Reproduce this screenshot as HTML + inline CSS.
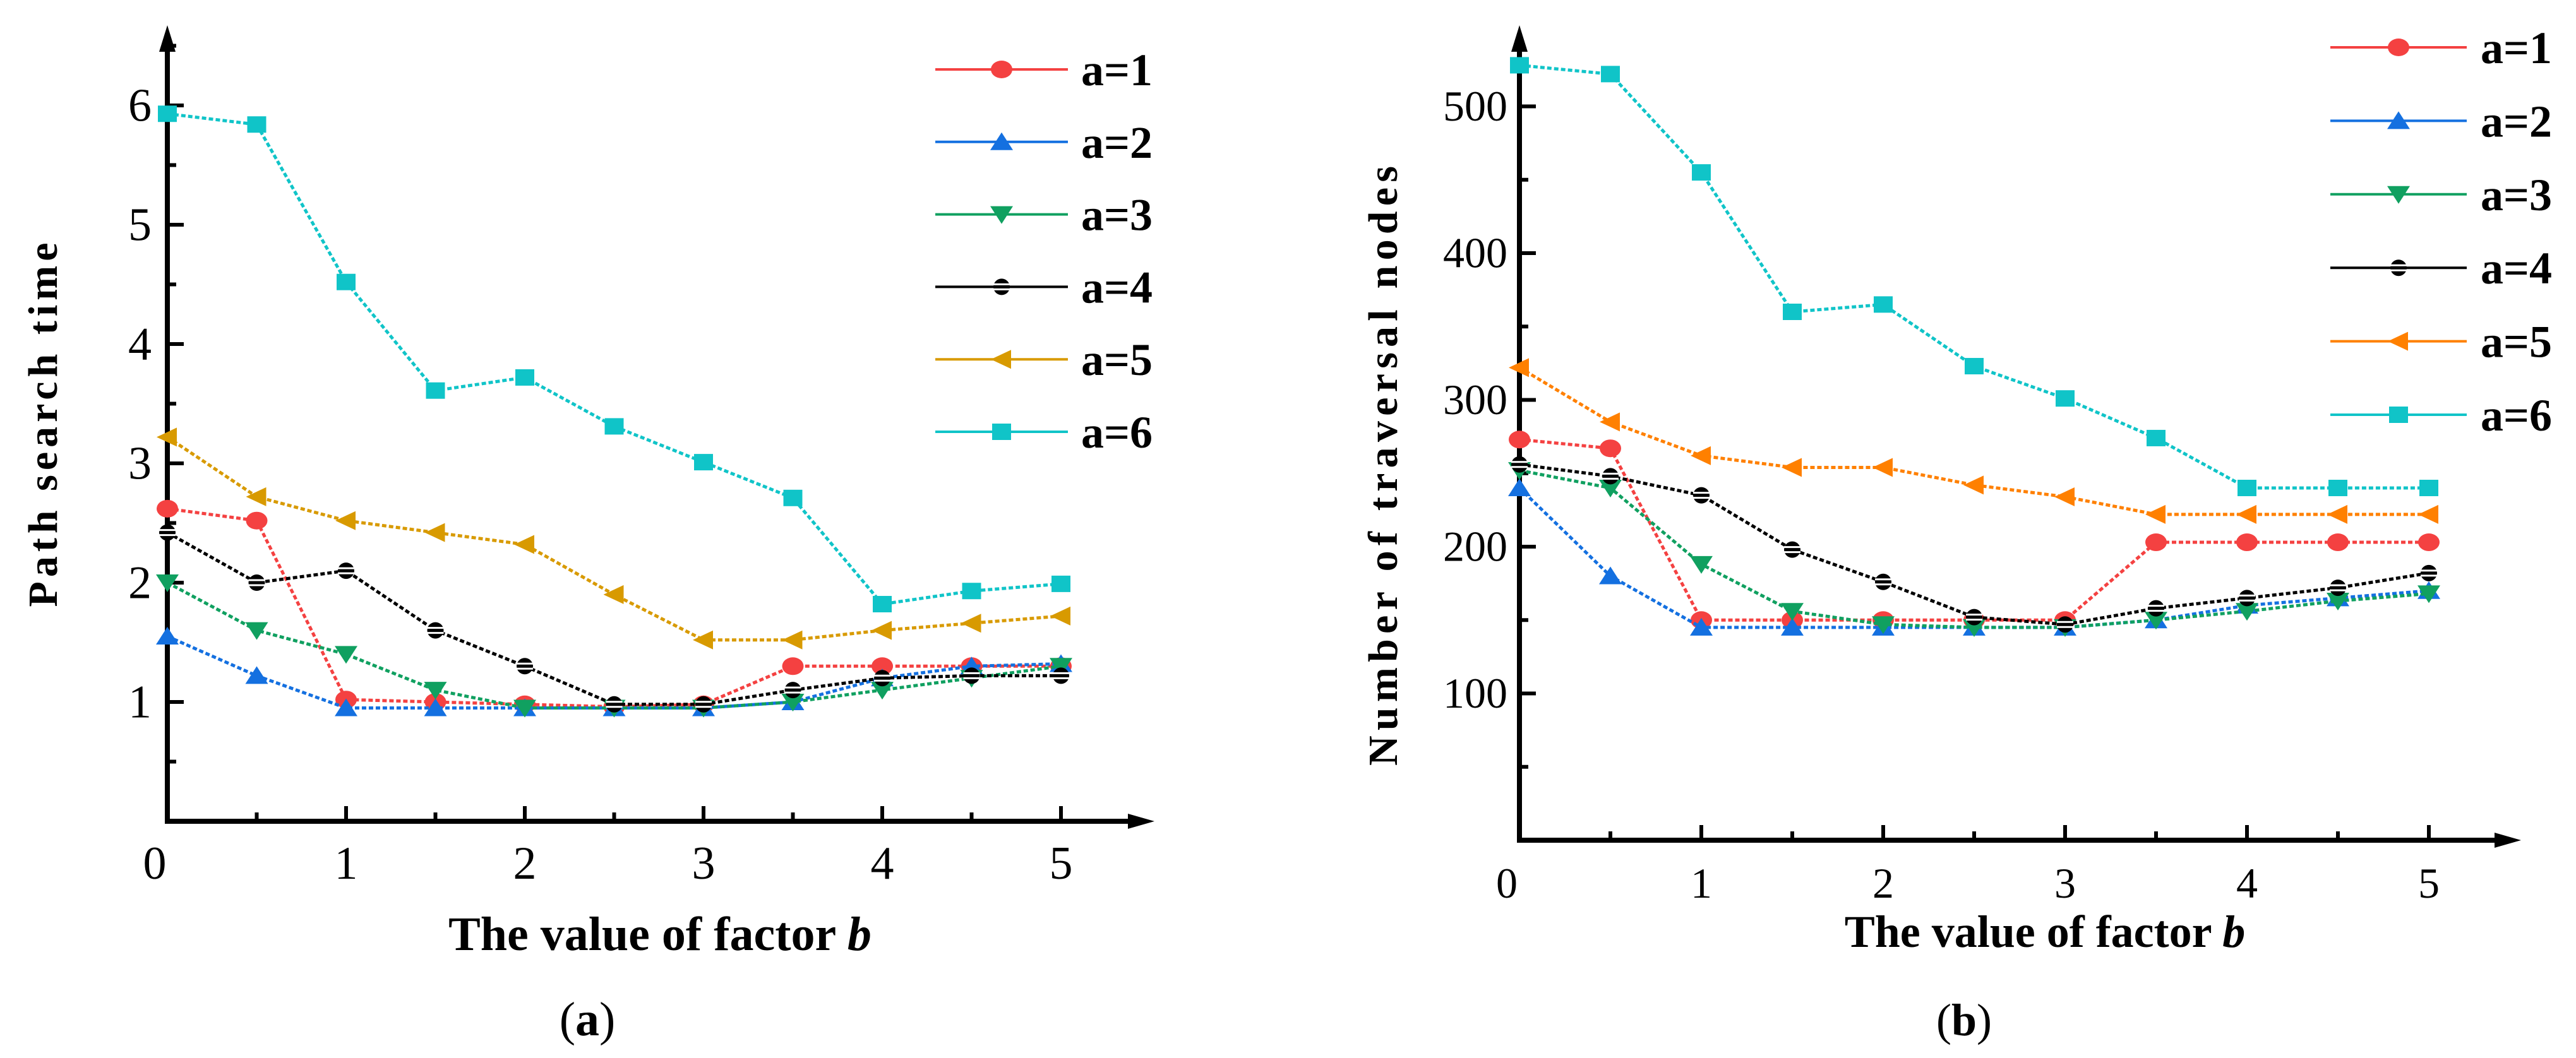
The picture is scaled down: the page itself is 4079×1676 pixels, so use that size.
<!DOCTYPE html>
<html><head><meta charset="utf-8">
<style>
html,body{margin:0;padding:0;background:#fff;}
svg{display:block;}
text{font-family:"Liberation Serif",serif;fill:#000;}
</style></head>
<body>
<svg id="fig" width="4079" height="1676" viewBox="0 0 4079 1676" xmlns="http://www.w3.org/2000/svg">
<g id="chartA"></g>
<g id="chartB"></g>
</svg>
<script>
const bValues = [0,0.5,1,1.5,2,2.5,3,3.5,4,4.5,5];
const seriesNames = ["a=1","a=2","a=3","a=4","a=5","a=6"];
const timeA1 = [2.62,2.52,1.02,1.0,0.98,0.96,0.98,1.3,1.3,1.3,1.3];
const timeA2 = [1.55,1.22,0.95,0.95,0.95,0.95,0.95,1.0,1.2,1.3,1.32];
const timeA3 = [2.0,1.6,1.4,1.1,0.95,0.95,0.95,1.0,1.1,1.2,1.3];
const timeA4 = [2.42,2.0,2.1,1.6,1.3,0.98,0.98,1.1,1.2,1.22,1.22];
const timeA5 = [3.22,2.72,2.52,2.42,2.32,1.9,1.52,1.52,1.6,1.66,1.72];
const timeA6 = [5.93,5.84,4.52,3.61,3.72,3.31,3.01,2.71,1.82,1.93,1.99];
const nodesA1 = [273,267,150,150,150,150,150,203,203,203,203];
const nodesA2 = [240,180,145,145,145,145,145,150,160,165,170];
const nodesA3 = [252,240,188,156,147,145,145,150,156,163,168];
const nodesA4 = [256,248,235,198,176,152,147,158,165,172,182];
const nodesA5 = [322,285,262,254,254,242,234,222,222,222,222];
const nodesA6 = [528,522,455,360,365,323,301,274,240,240,240];
const xTicks = [0,1,2,3,4,5];
const yTicksA = [1,2,3,4,5,6];
const yTicksB = [100,200,300,400,500];

const NS="http://www.w3.org/2000/svg";
function mk(parent,tag,attrs,txt){const e=document.createElementNS(NS,tag);for(const k in attrs)e.setAttribute(k,attrs[k]);if(txt!==undefined)e.textContent=txt;parent.appendChild(e);return e;}

function marker(g,kind,x,y,color){
  const s=15;let m;
  if(kind==="circle") m=mk(g,"ellipse",{cx:x,cy:y,rx:s+2,ry:s-1,fill:color});
  else if(kind==="up") m=mk(g,"polygon",{points:`${x},${y-s} ${x+s+3},${y+s-2} ${x-s-3},${y+s-2}`,fill:color});
  else if(kind==="down") m=mk(g,"polygon",{points:`${x-s-3},${y-s+2} ${x+s+3},${y-s+2} ${x},${y+s}`,fill:color});
  else if(kind==="diamond"){m=mk(g,"g",{});mk(m,"ellipse",{cx:x,cy:y,rx:13,ry:13,fill:color});mk(m,"line",{x1:x-13,y1:y-4,x2:x+13,y2:y-4,stroke:"#fff","stroke-width":3});mk(m,"line",{x1:x-13,y1:y+4,x2:x+13,y2:y+4,stroke:"#fff","stroke-width":3});}
  else if(kind==="left") m=mk(g,"polygon",{points:`${x-s-2},${y} ${x+s},${y-s} ${x+s},${y+s}`,fill:color});
  else m=mk(g,"rect",{x:x-s,y:y-s+2,width:2*s,height:2*s-4,fill:color});
  
  
}

function drawChart(cfg){
  const g=document.getElementById(cfg.id);
  const X=v=>cfg.x0+v*cfg.xu;
  const Y=v=>cfg.y0-v*cfg.yu;
  const ax=mk(g,"g",{});
  
  
  mk(ax,"line",{x1:cfg.x0,y1:cfg.y0,x2:cfg.x0,y2:70,stroke:"#000","stroke-width":8});
  mk(ax,"polygon",{points:`${cfg.x0},40 ${cfg.x0-13},82 ${cfg.x0+13},82`,fill:"#000"});
  mk(ax,"line",{x1:cfg.x0-4,y1:cfg.y0,x2:cfg.xEnd-30,y2:cfg.y0,stroke:"#000","stroke-width":8});
  mk(ax,"polygon",{points:`${cfg.xEnd},${cfg.y0} ${cfg.xEnd-42},${cfg.y0-12} ${cfg.xEnd-42},${cfg.y0+12}`,fill:"#000"});
  for(let v=0.5;v<=5;v+=0.5){const maj=Math.abs(v-Math.round(v))<1e-6;mk(ax,"line",{x1:X(v),y1:cfg.y0,x2:X(v),y2:cfg.y0-(maj?24:14),stroke:"#000","stroke-width":6});}
  for(let v=cfg.yMinor;v<=cfg.yMax;v+=cfg.yMinor){const maj=Math.abs(v/cfg.yMajor-Math.round(v/cfg.yMajor))<1e-6;mk(ax,"line",{x1:cfg.x0,y1:Y(v),x2:cfg.x0+(maj?26:14),y2:Y(v),stroke:"#000","stroke-width":6});}
  xTicks.forEach(v=>{const t=mk(g,"text",{x:X(v)-(v===0?20:0),y:cfg.xLabY,"font-size":cfg.tickFs,"text-anchor":"middle"},String(v));
    });
  cfg.yTicks.forEach(v=>{const t=mk(g,"text",{x:cfg.yLabX,y:Y(v)+cfg.tickFs*0.33,"font-size":cfg.tickFs,"text-anchor":"end"},String(v));
    });
  const xt=mk(g,"text",{x:cfg.xTitleX,y:cfg.xTitleY,"font-size":cfg.titleFs,"text-anchor":"middle","font-weight":cfg.xTitleW},"The value of factor ");
  mk(xt,"tspan",{"font-style":"italic"},"b");
  
  const yt=mk(g,"text",{x:0,y:0,"font-size":cfg.yTitleFs,"font-weight":"bold","text-anchor":"middle",transform:`translate(${cfg.yTitleX},${cfg.yTitleY}) rotate(-90)`,textLength:cfg.yTitleLen,lengthAdjust:"spacing"},cfg.yTitle);
  
  const cap=mk(g,"text",{x:cfg.capX,y:1640,"font-size":cfg.titleFs,"text-anchor":"middle"},"(");
  mk(cap,"tspan",{"font-weight":"bold"},cfg.cap);cap.appendChild(document.createTextNode(")"));
  

  cfg.series.forEach((vals,i)=>{
    const sg=mk(g,"g",{});
    
    
    const pts=vals.map((v,j)=>`${X(bValues[j])},${Y(v)}`).join(" ");
    const pl=mk(sg,"polyline",{points:pts,fill:"none",stroke:cfg.colors[i],"stroke-width":5,"stroke-dasharray":"7 4"});
    
    vals.forEach((v,j)=>marker(sg,cfg.kinds[i],X(bValues[j]),Y(v),cfg.colors[i]));
    const lg=mk(g,"g",{});
    
    
    const ly=cfg.legY0+i*cfg.legDy;
    mk(lg,"line",{x1:cfg.legX1,y1:ly,x2:cfg.legX2,y2:ly,stroke:cfg.colors[i],"stroke-width":4});
    marker(lg,cfg.kinds[i],(cfg.legX1+cfg.legX2)/2,ly,cfg.colors[i]);
    mk(lg,"text",{x:cfg.legTX,y:ly+25,"font-size":cfg.legFs,"font-weight":"bold"},seriesNames[i]);
  });
}

const kinds=["circle","up","down","diamond","left","square"];
drawChart({id:"chartA",x0:265,y0:1301,xu:283,yu:189,xEnd:1828,yMax:6.6,yMinor:0.5,yMajor:1,
  yTicks:yTicksA,tickFs:74,xLabY:1392,yLabX:240,titleFs:76,xTitleX:1045,xTitleY:1505,xTitleW:"bold",
  yTitle:"Path search time",yTitleFs:66,yTitleX:90,yTitleY:673,yTitleLen:577,capX:930,cap:"a",
  series:[timeA1,timeA2,timeA3,timeA4,timeA5,timeA6],kinds:kinds,
  colors:["#f44141","#1470e0","#10a060","#000000","#d89a00","#10c4c8"],
  legX1:1481,legX2:1691,legY0:110,legDy:114.8,legTX:1712,legFs:72});
drawChart({id:"chartB",x0:2406,y0:1331,xu:288,yu:2.325,xEnd:3992,yMax:540,yMinor:50,yMajor:100,
  yTicks:yTicksB,tickFs:68,xLabY:1422,yLabX:2387,titleFs:72,xTitleX:3238,xTitleY:1500,xTitleW:"bold",
  yTitle:"Number of traversal nodes",yTitleFs:66,yTitleX:2212,yTitleY:738,yTitleLen:950,capX:3110,cap:"b",
  series:[nodesA1,nodesA2,nodesA3,nodesA4,nodesA5,nodesA6],kinds:kinds,
  colors:["#f44141","#1470e0","#10a060","#000000","#ff8000","#10c4c8"],
  legX1:3690,legX2:3906,legY0:75,legDy:116.4,legTX:3928,legFs:72});
</script>
</body></html>
